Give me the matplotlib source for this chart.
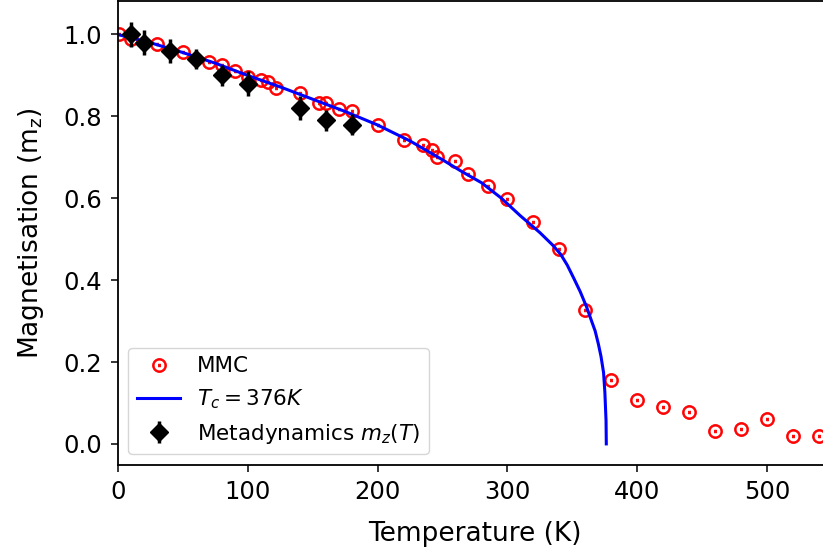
import matplotlib
matplotlib.use("Agg")
import matplotlib.pyplot as plt
import numpy as np

# MMC simulation points
mmc_T = [1, 10, 30, 50, 70, 80, 90, 100, 110, 116, 122, 140, 155, 160, 170, 180,
         200, 220, 235, 242, 246, 260, 270, 285, 300, 320, 340, 360,
         380, 400, 420, 440, 460, 480, 500, 520, 540]
mmc_m = [1.0, 0.988, 0.976, 0.956, 0.932, 0.925, 0.912, 0.897, 0.888, 0.884, 0.870, 0.856, 0.833, 0.833, 0.819, 0.814,
         0.778, 0.742, 0.729, 0.719, 0.701, 0.691, 0.660, 0.630, 0.597, 0.543, 0.477, 0.328,
         0.157, 0.108, 0.089, 0.077, 0.031, 0.036, 0.062, 0.020, 0.020]

# fitted curve, Tc = 376 K
fit_T = [0, 25, 50, 75, 100, 125, 150, 175, 200, 225, 250, 265, 280, 295, 310, 325,
         335, 341, 346, 351, 356, 361, 365, 367.5, 370, 372, 374, 375, 375.6, 375.9, 376.1]
fit_m = [1.0, 0.98, 0.956, 0.93, 0.900, 0.872, 0.842, 0.812, 0.779, 0.740, 0.694, 0.665, 0.638, 0.601, 0.557, 0.516,
         0.485, 0.463, 0.437, 0.405, 0.372, 0.334, 0.298, 0.276, 0.244, 0.214, 0.174, 0.126, 0.08, 0.057, 0.0]

# metadynamics
md_T = [10, 20, 40, 60, 80, 100, 140, 160, 180]
md_m = [1.0, 0.98, 0.96, 0.94, 0.90, 0.88, 0.82, 0.79, 0.78]
md_err = [0.03, 0.03, 0.03, 0.025, 0.025, 0.03, 0.03, 0.025, 0.025]

fig = plt.figure(figsize=(8.23, 5.55), dpi=100)
ax = fig.add_axes([0.1430, 0.1622, 1.0112 - 0.1430, 0.998 - 0.1622])

ax.plot(mmc_T, mmc_m, linestyle='none', marker=r'$\odot$', color='red',
        markersize=10, markeredgewidth=0.6, label='MMC')
ax.plot(fit_T, fit_m, color='blue', linewidth=2.2, label=r'$T_c = 376K$')
ax.errorbar(md_T, md_m, yerr=md_err, fmt='kD', markersize=9.5, elinewidth=2.5,
            label=r'Metadynamics $m_z(T)$')

ax.set_xlim(0, 550)
ax.set_ylim(-0.0515, 1.0815)
ax.set_xticks([0, 100, 200, 300, 400, 500])
ax.set_yticks([0.0, 0.2, 0.4, 0.6, 0.8, 1.0])
ax.tick_params(labelsize=17.5, length=5, width=1.1, pad=6)
for s in ax.spines.values():
    s.set_linewidth(1.3)

ax.set_xlabel('Temperature (K)', fontsize=19, labelpad=12)
ax.set_ylabel(r'Magnetisation (m$_\mathrm{z}$)', fontsize=19, labelpad=13)

ax.legend(loc='lower left', fontsize=15.5)

fig.savefig("out.png", dpi=100)
